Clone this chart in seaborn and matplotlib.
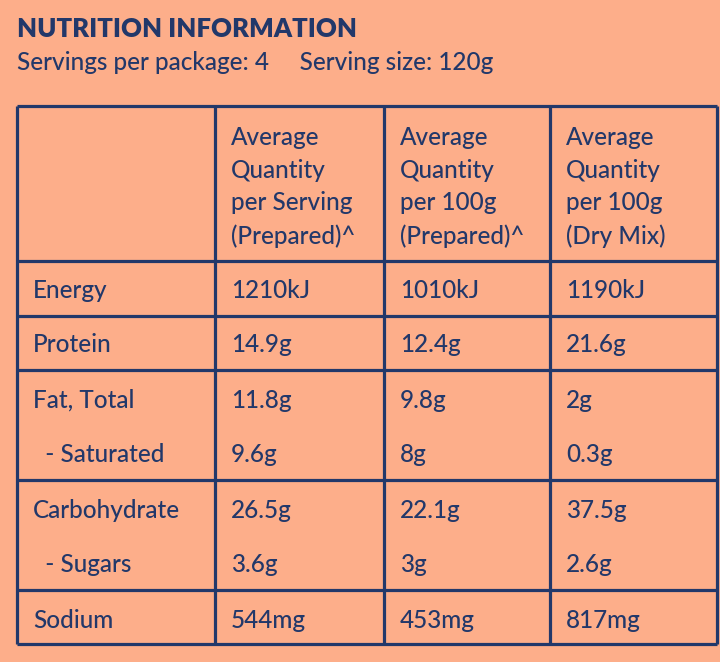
import matplotlib
matplotlib.use("Agg")
import matplotlib.pyplot as plt
import seaborn as sns
import pandas as pd

BG = "#FDAE8A"
INK = "#22386A"

title = "NUTRITION INFORMATION"
subtitle = "Servings per package: 4     Serving size: 120g"
headers = [
    "Average\nQuantity\nper Serving\n(Prepared)^",
    "Average\nQuantity\nper 100g\n(Prepared)^",
    "Average\nQuantity\nper 100g\n(Dry Mix)",
]
nutrients = ["Energy", "Protein", "Fat, Total", "  - Saturated",
             "Carbohydrate", "  - Sugars", "Sodium"]
per_serving = ["1210kJ", "14.9g", "11.8g", "9.6g", "26.5g", "3.6g", "544mg"]
per_100g_prep = ["1010kJ", "12.4g", "9.8g", "8g", "22.1g", "3g", "453mg"]
per_100g_dry = ["1190kJ", "21.6g", "2g", "0.3g", "37.5g", "2.6g", "817mg"]

df = pd.DataFrame({"nutrient": nutrients, "c1": per_serving,
                   "c2": per_100g_prep, "c3": per_100g_dry})

sns.set_theme(style="white", rc={"figure.facecolor": BG, "axes.facecolor": BG})
plt.rcParams["font.family"] = ["Lato", "DejaVu Sans"]

fig = plt.figure(figsize=(7.2, 6.62), dpi=100)
ax = fig.add_axes([0, 0, 1, 1])
ax.set_xlim(0, 720)
ax.set_ylim(662, 0)
ax.axis("off")

# layout of the table grid (pixels)
col_x = [17, 215, 384, 550, 717]
row_y = [106, 261, 316, 370, 480, 590, 644]
row_centre = [291, 345, 400, 455, 510, 565, 620]

lw = 2.3
ax.hlines(row_y, col_x[0], col_x[-1], color=INK, lw=lw)
ax.vlines(col_x, row_y[0], row_y[-1], color=INK, lw=lw)

ax.text(17, 29, title, color=INK, fontsize=18.5, fontweight="heavy", va="center")
ax.text(17, 63, subtitle, color=INK, fontsize=17.5, fontweight="medium", va="center")

for i, h in enumerate(headers):
    ax.text(col_x[i + 1] + 16, 187, h, color=INK, fontsize=17.5, fontweight="medium",
            va="center", linespacing=1.52)

for r, row in df.iterrows():
    y = row_centre[r]
    ax.text(33, y, row["nutrient"], color=INK, fontsize=17.5, fontweight="medium",
            va="center")
    for j, c in enumerate(["c1", "c2", "c3"]):
        ax.text(col_x[j + 1] + 16, y, row[c], color=INK, fontsize=17.5,
                fontweight="medium", va="center")

fig.savefig("out.png", dpi=100, facecolor=BG)
